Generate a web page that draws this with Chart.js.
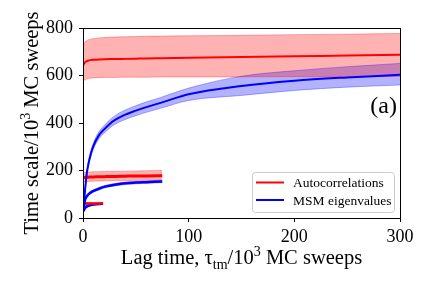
<!DOCTYPE html>
<html>
<head>
<meta charset="utf-8">
<script src="https://cdn.jsdelivr.net/npm/chart.js@4.4.0/dist/chart.umd.min.js"></script>
<style>
  html, body { margin: 0; padding: 0; background: #fff; }
  #wrap { width: 436px; height: 291px; position: relative; }
</style>
</head>
<body>
<div id="wrap"><canvas id="myChart" width="436" height="291"></canvas></div>
<script>
// lag times (10^3 MC sweeps)
var lagLong = [0.5, 1, 2, 3.5, 5, 7.5, 10, 15, 20, 25, 30, 40, 50, 60, 75, 100, 150, 200, 250, 300];
var lagMid = [0.5, 1, 2, 3.5, 5, 7.5, 10, 15, 20, 25, 30, 40, 50, 60, 75];
var lagShort = [0.5, 1, 2, 3.5, 5, 7.5, 10, 15, 19];

// longest run
var autoLong = [645, 650, 656, 660, 663, 665, 666, 667, 668, 669, 669, 670, 671, 672, 673, 675, 678, 681, 684, 687];
var autoLongHi = [733, 737, 742, 746, 750, 753, 756, 758, 760, 761, 762, 763, 764, 765, 766, 767, 769, 772, 774, 777];
var autoLongLo = [577, 579, 582, 585, 587, 589, 590, 591, 592, 592, 592, 593, 593, 593, 594, 594, 594, 595, 595, 596];
var msmLong = [35, 60, 120, 185, 225, 272, 305, 348, 373, 395, 412, 435, 452, 467, 487, 521, 556, 578, 592, 603];
var msmLongHi = [41, 67, 128, 194, 235, 284, 318, 363, 389, 412, 430, 455, 473, 489, 510, 547, 597, 620, 637, 651];
var msmLongLo = [29, 53, 112, 176, 215, 260, 292, 333, 357, 378, 394, 415, 431, 445, 464, 495, 516, 537, 551, 560];

// middle run
var autoMid = [168, 170, 171, 172, 172, 173, 173, 174, 174, 175, 175, 176, 177, 177, 178];
var autoMidHi = [191, 192, 193, 193, 194, 194, 195, 195, 196, 196, 197, 197, 198, 199, 200];
var autoMidLo = [152, 153, 153, 154, 154, 155, 155, 156, 156, 157, 157, 158, 158, 159, 159];
var msmMid = [35, 50, 77, 90, 99, 108, 114, 123, 131, 136, 140, 146, 149, 151, 154];
var msmMidHi = [39, 55, 82, 95, 104, 113, 119, 128, 136, 141, 145, 151, 154, 156, 159];
var msmMidLo = [31, 45, 72, 85, 94, 103, 109, 118, 126, 131, 135, 141, 144, 146, 149];

// shortest run
var autoShort = [60, 61, 61, 61, 61, 61, 61, 61, 61];
var autoShortHi = [65, 65, 65, 65, 65, 65, 65, 65, 65];
var autoShortLo = [55, 56, 56, 56, 56, 56, 56, 56, 56];
var msmShort = [28, 35, 42, 48, 51, 55, 57, 59, 60];
var msmShortHi = [31, 38, 45, 51, 54, 58, 60, 62, 63];
var msmShortLo = [25, 32, 39, 45, 48, 52, 54, 56, 57];

var xTicks = [0, 100, 200, 300];
var yTicks = [0, 200, 400, 600, 800];

var SERIF = '"Liberation Serif", "DejaVu Serif", serif';
var RED = '#ff0000', BLUE = '#0000ff';
var RED_FILL = 'rgba(255,0,0,0.3)', BLUE_FILL = 'rgba(0,0,255,0.3)';

function pts(xs, ys) {
  return xs.map(function (x, i) { return { x: x, y: ys[i] }; });
}

function meanLine(xs, ys, color, w) {
  return { data: pts(xs, ys), borderColor: color, borderWidth: w, pointRadius: 0,
           fill: false, cubicInterpolationMode: 'monotone' };
}
function bandEdge(xs, ys, fillColor, target) {
  return { data: pts(xs, ys), borderColor: fillColor, borderWidth: 1, pointRadius: 0,
           backgroundColor: fillColor, cubicInterpolationMode: 'monotone',
           fill: target === undefined ? false : { target: target } };
}

var datasets = [
  meanLine(lagLong, autoLong, RED, 2),
  meanLine(lagLong, msmLong, BLUE, 2),
  meanLine(lagMid, autoMid, RED, 3),
  meanLine(lagMid, msmMid, BLUE, 2.5),
  meanLine(lagShort, autoShort, RED, 2.5),
  meanLine(lagShort, msmShort, BLUE, 2.5),
  bandEdge(lagLong, autoLongHi, RED_FILL, 7),
  bandEdge(lagLong, autoLongLo, RED_FILL),
  bandEdge(lagLong, msmLongHi, BLUE_FILL, 9),
  bandEdge(lagLong, msmLongLo, BLUE_FILL),
  bandEdge(lagMid, autoMidHi, RED_FILL, 11),
  bandEdge(lagMid, autoMidLo, RED_FILL),
  bandEdge(lagMid, msmMidHi, BLUE_FILL, 13),
  bandEdge(lagMid, msmMidLo, BLUE_FILL),
  bandEdge(lagShort, autoShortHi, RED_FILL, 15),
  bandEdge(lagShort, autoShortLo, RED_FILL),
  bandEdge(lagShort, msmShortHi, BLUE_FILL, 17),
  bandEdge(lagShort, msmShortLo, BLUE_FILL)
];

// text with sub/superscripts
function drawRich(ctx, segs, x, y, size, align) {
  var small = Math.round(size * 0.7);
  var widths = segs.map(function (s) {
    ctx.font = (s[1] ? small : size) + 'px ' + SERIF;
    return ctx.measureText(s[0]).width;
  });
  var total = widths.reduce(function (a, b) { return a + b; }, 0);
  var cx = align === 'center' ? x - total / 2 : x;
  ctx.textAlign = 'left';
  ctx.textBaseline = 'alphabetic';
  segs.forEach(function (s, i) {
    ctx.font = (s[1] ? small : size) + 'px ' + SERIF;
    var dy = s[1] === 'sub' ? size * 0.22 : (s[1] === 'sup' ? -size * 0.4 : 0);
    ctx.fillText(s[0], cx, y + dy);
    cx += widths[i];
  });
}

var decor = {
  id: 'decor',
  afterDraw: function (chart) {
    var ctx = chart.ctx, a = chart.chartArea;
    ctx.save();
    // frame
    ctx.strokeStyle = '#000';
    ctx.lineWidth = 1;
    ctx.strokeRect(Math.round(a.left) + 0.5, Math.round(a.top) + 0.5,
                   Math.round(a.right - a.left), Math.round(a.bottom - a.top));
    ctx.fillStyle = '#000';
    // axis titles
    drawRich(ctx, [['Lag time, \u03C4', ''], ['tm', 'sub'], ['/10', ''], ['3', 'sup'], [' MC sweeps', '']],
             (a.left + a.right) / 2, 264, 20.5, 'center');
    ctx.save();
    ctx.translate(38, (a.top + a.bottom) / 2);
    ctx.rotate(-Math.PI / 2);
    drawRich(ctx, [['Time scale/10', ''], ['3', 'sup'], [' MC sweeps', '']], 0, 0, 20.5, 'center');
    ctx.restore();
    // panel label
    ctx.font = '24px ' + SERIF;
    ctx.textAlign = 'right';
    ctx.textBaseline = 'alphabetic';
    ctx.fillText('(a)', 397, 113);
    // legend
    ctx.beginPath();
    ctx.roundRect(252.5, 172.5, 142, 40, 3);
    ctx.fillStyle = 'rgba(255,255,255,0.8)';
    ctx.fill();
    ctx.strokeStyle = '#cccccc';
    ctx.stroke();
    var items = [['Autocorrelations', RED, 182.5], ['MSM eigenvalues', BLUE, 200]];
    items.forEach(function (it) {
      ctx.beginPath();
      ctx.moveTo(256, it[2]);
      ctx.lineTo(284, it[2]);
      ctx.strokeStyle = it[1];
      ctx.lineWidth = 2;
      ctx.stroke();
      ctx.fillStyle = '#000';
      ctx.font = '13.5px ' + SERIF;
      ctx.textAlign = 'left';
      ctx.textBaseline = 'middle';
      ctx.fillText(it[0], 293, it[2] + 1);
    });
    ctx.restore();
  }
};

var ctx = document.getElementById('myChart').getContext('2d');
var myChart = new Chart(ctx, {
  type: 'line',
  data: { datasets: datasets },
  options: {
    responsive: false,
    animation: false,
    layout: { padding: { top: 28, right: 36, left: 0, bottom: 0 } },
    plugins: {
      legend: { display: false },
      tooltip: { enabled: false },
      filler: { drawTime: 'beforeDatasetsDraw', propagate: false }
    },
    scales: {
      x: {
        type: 'linear', min: 0, max: 300,
        afterBuildTicks: function (scale) { scale.ticks = xTicks.map(function (v) { return { value: v }; }); },
        afterFit: function (scale) { scale.height = 73; },
        grid: { drawOnChartArea: false, drawTicks: true, tickLength: 4, color: '#000' },
        border: { display: true, color: '#000', width: 1 },
        ticks: { color: '#000', padding: 4, maxRotation: 0, font: { family: SERIF, size: 18 } }
      },
      y: {
        type: 'linear', min: 0, max: 800,
        afterBuildTicks: function (scale) { scale.ticks = yTicks.map(function (v) { return { value: v }; }); },
        afterFit: function (scale) { scale.width = 83; },
        grid: { drawOnChartArea: false, drawTicks: true, tickLength: 4, color: '#000' },
        border: { display: true, color: '#000', width: 1 },
        ticks: { color: '#000', padding: 6, font: { family: SERIF, size: 18 } }
      }
    }
  },
  plugins: [decor]
});
</script>
</body>
</html>
